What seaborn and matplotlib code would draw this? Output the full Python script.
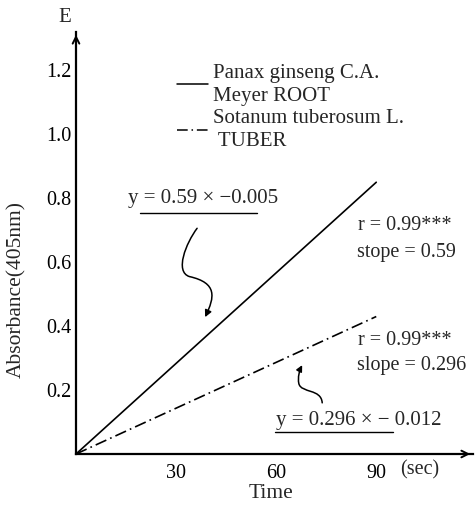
import numpy as np
import pandas as pd
import matplotlib
matplotlib.use("Agg")
import matplotlib.pyplot as plt
from matplotlib.path import Path
from matplotlib.patches import FancyArrowPatch
import seaborn as sns

# ---- data ----
time_sec = [0, 90]
ginseng_abs = [0.0, 0.85]
potato_abs = [0.0, 0.43]
series_names = ["Panax ginseng C.A.\nMeyer ROOT", "Sotanum tuberosum L.\n TUBER"]
y_ticks = [0.2, 0.4, 0.6, 0.8, 1.0, 1.2]
y_tick_labels = ["0.2", "0.4", "0.6", "0.8", "1.0", "1.2"]
x_ticks = [30, 60, 90]
x_tick_labels = ["30", "60", "90"]

df = pd.DataFrame({
    "Time": time_sec + time_sec,
    "Absorbance": ginseng_abs + potato_abs,
    "Sample": [series_names[0]] * len(time_sec) + [series_names[1]] * len(time_sec),
})

sns.set_theme(style="white")
plt.rcParams["font.family"] = ["Liberation Serif", "DejaVu Serif"]

fig = plt.figure(figsize=(4.76, 5.05), dpi=100)
ax = fig.add_axes([76 / 476, 1 - 454 / 505, 397 / 476, 422 / 505])

sns.lineplot(data=df, x="Time", y="Absorbance", style="Sample",
             dashes={series_names[0]: "", series_names[1]: (7, 2.5, 1, 2.5)},
             color="black", linewidth=1.2, ax=ax, legend=True)

ax.set_xlim(0, 119)
ax.set_ylim(0, 1.32)
ax.set_yticks(y_ticks)
ax.set_yticklabels(y_tick_labels)
ax.set_xticks(x_ticks)
ax.set_xticklabels(x_tick_labels)
ax.tick_params(axis="both", direction="in", length=4, width=1, colors="black",
               labelsize=14.5)
ax.tick_params(axis="y", pad=3)
ax.tick_params(axis="x", pad=7)
for s in ["top", "right"]:
    ax.spines[s].set_visible(False)
for s in ["left", "bottom"]:
    ax.spines[s].set_linewidth(1.6)
    ax.spines[s].set_color("black")

# axis arrows
ax.annotate("", xy=(1.0, 0.0), xytext=(0.96, 0.0), xycoords="axes fraction",
            arrowprops=dict(arrowstyle="->", color="black", lw=1.4,
                            mutation_scale=12), annotation_clip=False)
ax.annotate("", xy=(0.0, 1.0), xytext=(0.0, 0.96), xycoords="axes fraction",
            arrowprops=dict(arrowstyle="->", color="black", lw=1.4,
                            mutation_scale=12), annotation_clip=False)

ax.set_xlabel("Time", fontsize=15.5)
ax.xaxis.set_label_coords(0.491, -0.072)
ax.set_ylabel("Absorbance(405nm)", fontsize=15.5)
ax.yaxis.set_label_coords(-0.125, 0.39)

fig.text(65 / 476, 1 - 18 / 505, "E", fontsize=15, ha="center", va="center")
ax.text(103, -0.05, "(sec)", fontsize=14.5, ha="center", va="center")

leg = ax.legend(loc="upper left", bbox_to_anchor=(0.254, 0.925), frameon=False,
                fontsize=15, handlelength=1.5, handletextpad=0.25,
                labelspacing=0.15, borderpad=0, borderaxespad=0, title=None)
for line in leg.get_lines():
    line.set_linewidth(1.1)
for t in leg.get_texts():
    t.set_linespacing(1.3)

# annotations
ax.text(38.0, 0.80, "y = 0.59 × −0.005", fontsize=15, ha="center", va="center")
ax.plot([19.2, 54.3], [0.753, 0.753], color="black", lw=1.0)
ax.text(84.8, 0.106, "y = 0.296 × − 0.012", fontsize=15, ha="center", va="center")
ax.plot([59.7, 95.1], [0.069, 0.069], color="black", lw=1.0)

ax.text(84.6, 0.716, "r = 0.99***", fontsize=14.5, ha="left", va="center")
ax.text(84.3, 0.631, "stope = 0.59", fontsize=14.5, ha="left", va="center")
ax.text(84.6, 0.356, "r = 0.99***", fontsize=14.5, ha="left", va="center")
ax.text(84.3, 0.278, "slope = 0.296", fontsize=14.5, ha="left", va="center")

p1 = Path([(36.3, 0.706), (33.0, 0.66), (29.5, 0.57), (34.0, 0.555),
           (42.5, 0.535), (41.5, 0.49), (38.7, 0.428)],
          [Path.MOVETO, Path.CURVE4, Path.CURVE4, Path.CURVE4,
           Path.CURVE4, Path.CURVE4, Path.CURVE4])
ax.add_patch(FancyArrowPatch(path=p1, arrowstyle="-|>", mutation_scale=10,
                             color="black", lw=1.1))
p2 = Path([(73.8, 0.16), (73.5, 0.205), (67.5, 0.19), (66.8, 0.22),
           (66.4, 0.24), (67.0, 0.262), (67.8, 0.278)],
          [Path.MOVETO, Path.CURVE4, Path.CURVE4, Path.CURVE4,
           Path.CURVE4, Path.CURVE4, Path.CURVE4])
ax.add_patch(FancyArrowPatch(path=p2, arrowstyle="-|>", mutation_scale=9,
                             color="black", lw=1.1))

fig.savefig("out.png", dpi=100)
